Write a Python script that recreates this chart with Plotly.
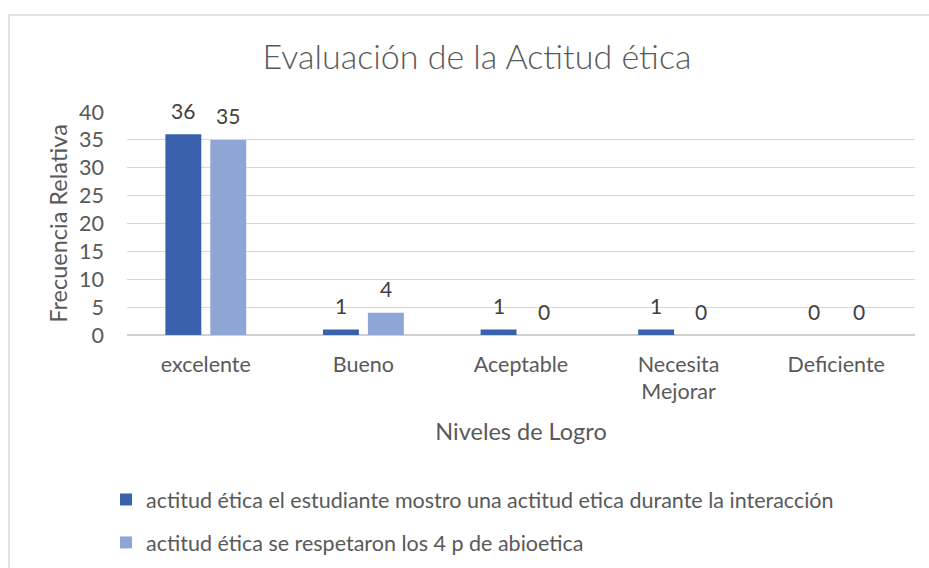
import plotly.graph_objects as go

categories = ["excelente", "Bueno", "Aceptable", "Necesita<br>Mejorar", "Deficiente"]
series_names = [
    "actitud ética el estudiante mostro una actitud etica durante la interacción",
    "actitud ética se respetaron los 4 p de abioetica",
]
series1 = [36, 1, 1, 1, 0]
series2 = [35, 4, 0, 0, 0]
y_ticks = [0, 5, 10, 15, 20, 25, 30, 35, 40]

colors = ["#3A62AC", "#8FA5D5"]
FONT = "Lato"
TXT = "#595959"
FS = 21.5

W, H = 929, 568
L, R, T, B = 127, 14, 112, 233
pw, ph = W - L - R, H - T - B

fig = go.Figure()
for i, (name, vals) in enumerate(zip(series_names, [series1, series2])):
    fig.add_trace(go.Bar(
        x=categories, y=vals, name=name, marker_color=colors[i],
        marker_line_width=0, legendgroup=f"g{i}",
    ))
    for c, v in zip(categories, vals):
        fig.add_annotation(
            x=c, y=v, xref="x", yref="y", text=str(v), showarrow=False,
            xshift=(i - 0.5) * 45, yshift=24, yanchor="middle",
            font=dict(family=FONT, size=21, color="#404040"),
        )

def px_x(p):
    return (p - L) / pw

def px_y(p):
    return (H - B - p) / ph

fig.add_shape(type="rect", xref="paper", yref="paper",
              x0=px_x(9), x1=px_x(1000), y0=px_y(620), y1=px_y(15),
              line=dict(color="#D9D9D9", width=1.5), fillcolor="rgba(0,0,0,0)",
              layer="below")

fig.update_layout(
    width=W, height=H,
    margin=dict(l=L, r=R, t=T, b=B, autoexpand=False),
    paper_bgcolor="white", plot_bgcolor="white",
    barmode="group", bargap=0.43, bargroupgap=0.2,
    font=dict(family=FONT, size=FS, color=TXT),
    title=dict(text="Evaluación de la Actitud ética", x=px_x(477), xref="paper",
               xanchor="center", y=1 - 57 / H, yanchor="middle",
               font=dict(family=FONT, size=34, color=TXT, weight=300)),
    xaxis=dict(
        title=dict(text="Niveles de Logro", font=dict(size=23.5, color=TXT), standoff=20),
        showgrid=False, showline=False, ticks="", ticklabelstandoff=14,
        tickfont=dict(size=FS, color=TXT), automargin=False,
    ),
    yaxis=dict(
        title=dict(text="Frecuencia Relativa", font=dict(size=23.5, color=TXT), standoff=4),
        range=[0, 40], tickvals=y_ticks, showgrid=True, gridcolor="#D9D9D9", gridwidth=1,
        zeroline=True, zerolinecolor="#D0D0D0", zerolinewidth=1.5,
        ticks="", ticklabelstandoff=22, tickfont=dict(size=FS, color=TXT), automargin=False,
    ),
    legend=dict(x=px_x(106), y=px_y(521), xanchor="left", yanchor="middle",
                xref="paper", yref="paper", font=dict(size=FS, color=TXT),
                itemwidth=30, bgcolor="rgba(0,0,0,0)", tracegroupgap=12,
                traceorder="grouped"),
    showlegend=True,
)

fig.write_html("out.html", post_script="document.body.style.margin='0';",
               config={"displayModeBar": False})
